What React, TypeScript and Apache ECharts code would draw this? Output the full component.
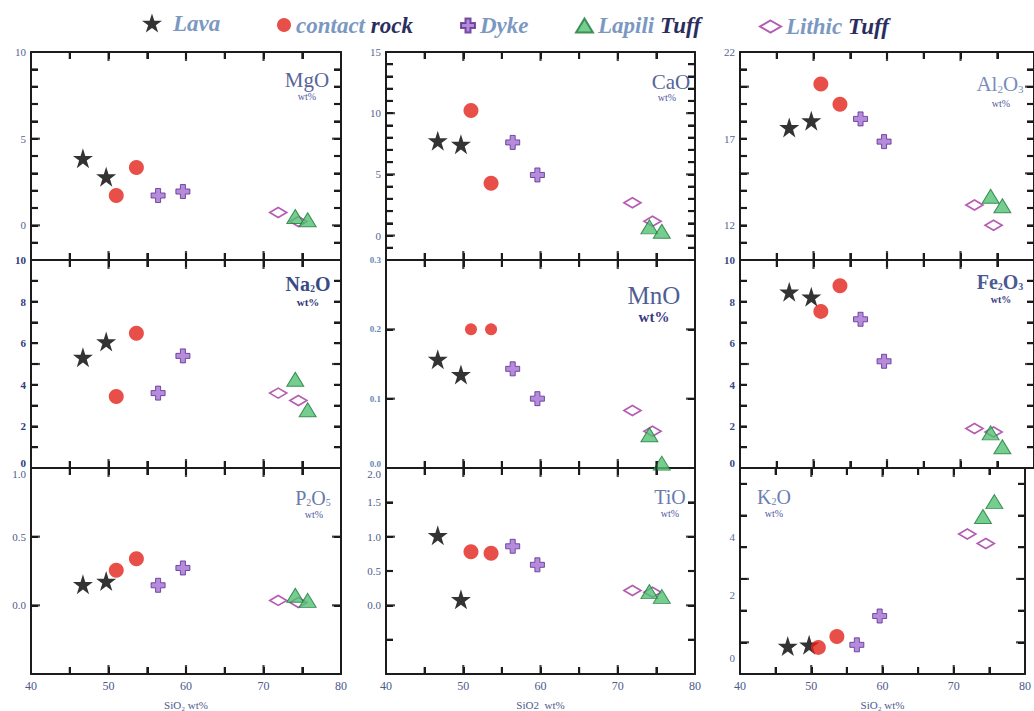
import React, { useEffect, useRef } from 'react';
import * as echarts from 'echarts';

// ---------- data ----------
const groupOrder = ['Lava', 'contact rock', 'Dyke', 'Lithic Tuff', 'Lapili Tuff'];
const sampleGroup = ['Lava', 'Lava', 'contact rock', 'contact rock', 'Dyke', 'Dyke', 'Lapili Tuff', 'Lapili Tuff', 'Lithic Tuff', 'Lithic Tuff'];
const SiO2 = [46.7, 49.7, 51.0, 53.6, 56.4, 59.6, 74.1, 75.7, 71.9, 74.5];
const MgO = [3.87, 2.81, 1.72, 3.33, 1.72, 1.95, 0.51, 0.32, 0.74, 0.22];
const CaO = [7.75, 7.47, 10.21, 4.27, 7.61, 4.95, 0.71, 0.35, 2.68, 1.17];
const Al2O3 = [17.65, 18.04, 20.15, 18.98, 18.14, 16.83, 13.68, 13.13, 13.17, 12.0];
const Na2O = [5.33, 6.08, 3.44, 6.48, 3.6, 5.39, 4.27, 2.8, 3.6, 3.25];
const MnO = [0.157, 0.135, 0.2, 0.2, 0.143, 0.1, 0.048, 0.007, 0.083, 0.053];
const Fe2O3 = [8.47, 8.23, 7.53, 8.76, 7.15, 5.13, 1.69, 1.02, 1.9, 1.73];
const P2O5 = [0.153, 0.177, 0.255, 0.34, 0.146, 0.272, 0.073, 0.036, 0.036, 0.02];
const TiO = [1.02, 0.087, 0.78, 0.76, 0.86, 0.59, 0.2, 0.13, 0.217, 0.19];
const K2O = [0.38, 0.42, 0.34, 0.68, 0.42, 1.33, 4.47, 4.94, 3.92, 3.62];

const xLabelValues = [40, 50, 60, 70, 80];
const xTicks = [45, 50, 55, 60, 65, 70, 75];
const xMajorTicks = [50, 60, 70];

const mgoLabels = [0, 5, 10];
const mgoTicks = [-1, 0, 1, 2, 3, 4, 5, 6, 7, 8, 9];
const mgoMajor = [0, 5];
const caoLabels = [0, 5, 10, 15];
const caoTicks = [-1, 0, 1, 2, 3, 4, 5, 6, 7, 8, 9, 10, 11, 12, 13, 14];
const caoMajor = [0, 5, 10];
const alLabels = [12, 17, 22];
const alTicks = [11, 12, 13, 14, 15, 16, 17, 18, 19, 20, 21];
const alMajor = [15, 20];
const naLabels = [0, 2, 4, 6, 8, 10];
const naTicks = [1, 2, 3, 4, 5, 6, 7, 8, 9];
const naMajor = [5];
const mnLabels = [0, 0.1, 0.2, 0.3];
const mnTicks = [0.1, 0.2];
const mnMajor = [0.1, 0.2];
const feLabels = [0, 2, 4, 6, 8, 10];
const feTicks = [1, 2, 3, 4, 5, 6, 7, 8, 9];
const feMajor = [5];
const pLabels = [0, 0.5, 1.0];
const pTicks = [0, 0.5];
const pMajor = [0, 0.5];
const tiLabels = [0, 0.5, 1.0, 1.5, 2.0];
const tiTicks = [-0.5, 0, 0.5, 1.0, 1.5];
const tiMajor = [0, 1.0];
const kLabels = [0, 2, 4];
const kTicks = [0.5, 1.5, 2.5, 3.5, 4.5, 5.5];
const kMajor = [0.5, 2.5];

// ---------- layout ----------
const cols = [
  { left: 31, width: 310 },
  { left: 386, width: 309 },
  { left: 740, width: 297 },
];
const rows = [
  { top: 52, height: 208 },
  { top: 260, height: 208 },
  { top: 468, height: 209 },
];

const SERIF = 'Liberation Serif';
const starPath = 'path://M50,0L61.2,34.5L97.6,34.5L68.2,55.9L79.4,90.5L50,69.1L20.6,90.5L31.8,55.9L2.4,34.5L38.8,34.5Z';
const plusPath = 'path://M32,0H68V32H100V68H68V100H32V68H0V32H32Z';

type Panel = {
  values: number[]; min: number; max: number; interval: number; labels: number[]; ticks: number[]; major: number[]; dec: number;
  labelColor: string; labelBold: boolean; labelSize: number;
  title: string; rich: any; tx: number; ty: number; wx: number; wy: number; wSize: number; wBold: boolean; wColor: string;
  xName: string;
};

function mainRich(size: number, color: string, bold: boolean) {
  return {
    m: { fontSize: size, lineHeight: size + 3, fill: color, fontFamily: SERIF, fontWeight: bold ? 'bold' : 'normal', verticalAlign: 'bottom' },
    s: { fontSize: Math.round(size * 0.5), lineHeight: Math.round(size * 0.5), fill: color, fontFamily: SERIF, fontWeight: bold ? 'bold' : 'normal', verticalAlign: 'bottom' },
  };
}

const panels: Panel[] = [
  { values: MgO, min: -2, max: 10, interval: 1, labels: mgoLabels, ticks: mgoTicks, major: mgoMajor, dec: 0, labelColor: '#56638f', labelBold: false, labelSize: 11,
    title: '{m|MgO}', rich: mainRich(21, '#56669a', false), tx: 307, ty: 78, wx: 307, wy: 96, wSize: 10, wBold: false, wColor: '#5058a0', xName: '' },
  { values: CaO, min: -2, max: 15, interval: 1, labels: caoLabels, ticks: caoTicks, major: caoMajor, dec: 0, labelColor: '#56638f', labelBold: false, labelSize: 11,
    title: '{m|CaO}', rich: mainRich(21, '#56669a', false), tx: 671, ty: 80, wx: 667, wy: 97, wSize: 10, wBold: false, wColor: '#5058a0', xName: '' },
  { values: Al2O3, min: 10, max: 22, interval: 1, labels: alLabels, ticks: alTicks, major: alMajor, dec: 0, labelColor: '#56638f', labelBold: false, labelSize: 11,
    title: '{m|Al}{s|2}{m|O}{s|3}', rich: mainRich(21, '#7a8cbc', false), tx: 1000, ty: 82, wx: 1001, wy: 103, wSize: 10, wBold: false, wColor: '#5058a0', xName: '' },
  { values: Na2O, min: 0, max: 10, interval: 1, labels: naLabels, ticks: naTicks, major: naMajor, dec: 0, labelColor: '#2f3c7c', labelBold: true, labelSize: 11,
    title: '{m|Na}{s|2}{m|O}', rich: mainRich(20, '#3a4a84', true), tx: 308, ty: 282, wx: 308, wy: 302, wSize: 11, wBold: true, wColor: '#2e3478', xName: '' },
  { values: MnO, min: 0, max: 0.3, interval: 0.1, labels: mnLabels, ticks: mnTicks, major: mnMajor, dec: 1, labelColor: '#5f8ab0', labelBold: true, labelSize: 9,
    title: '{m|MnO}', rich: mainRich(25, '#4e5e94', false), tx: 654, ty: 294, wx: 654, wy: 317, wSize: 15, wBold: true, wColor: '#3a3a82', xName: '' },
  { values: Fe2O3, min: 0, max: 10, interval: 1, labels: feLabels, ticks: feTicks, major: feMajor, dec: 0, labelColor: '#3a4686', labelBold: true, labelSize: 11,
    title: '{m|Fe}{s|2}{m|O}{s|3}', rich: mainRich(20, '#4a5a92', true), tx: 1000, ty: 280, wx: 1001, wy: 299, wSize: 10, wBold: true, wColor: '#3a3a82', xName: '' },
  { values: P2O5, min: -0.5, max: 1.0, interval: 0.5, labels: pLabels, ticks: pTicks, major: pMajor, dec: 1, labelColor: '#4e5a8a', labelBold: false, labelSize: 11,
    title: '{m|P}{s|2}{m|O}{s|5}', rich: mainRich(20, '#6a7aac', false), tx: 313, ty: 496, wx: 314, wy: 514, wSize: 10, wBold: false, wColor: '#5058a0', xName: 'SiO\u2082 wt%' },
  { values: TiO, min: -1, max: 2, interval: 0.5, labels: tiLabels, ticks: tiTicks, major: tiMajor, dec: 1, labelColor: '#4e5a8a', labelBold: false, labelSize: 11,
    title: '{m|TiO}', rich: mainRich(20, '#6a7aac', false), tx: 670, ty: 495, wx: 670, wy: 513, wSize: 10, wBold: false, wColor: '#5058a0', xName: 'SiO2  wt%' },
  { values: K2O, min: -0.5, max: 6, interval: 1, labels: kLabels, ticks: kTicks, major: kMajor, dec: 0, labelColor: '#5a6a9c', labelBold: false, labelSize: 11,
    title: '{m|K}{s|2}{m|O}', rich: mainRich(20, '#6a80b4', false), tx: 774, ty: 495, wx: 774, wy: 513, wSize: 10, wBold: false, wColor: '#5058a0', xName: 'SiO\u2082 wt%' },
];

function groupStyle(g: string, panelIdx: number) {
  switch (g) {
    case 'Lava':
      return { symbol: starPath, symbolSize: 20, itemStyle: { color: '#000000' } };
    case 'contact rock':
      return { symbol: 'circle', symbolSize: panelIdx === 4 ? 12 : 15, itemStyle: { color: '#e2231a' } };
    case 'Dyke':
      return { symbol: plusPath, symbolSize: 14, itemStyle: { color: '#a36fd3', borderColor: '#5b2c8c', borderWidth: 1 } };
    case 'Lapili Tuff':
      return { symbol: 'triangle', symbolSize: [17, 14], itemStyle: { color: '#53c173', borderColor: '#1d7a3a', borderWidth: 1 } };
    default:
      return { symbol: 'diamond', symbolSize: [17, 10], itemStyle: { color: 'rgba(255,255,255,0)', borderColor: '#a3339f', borderWidth: 1.8 } };
  }
}

const legendDefs = [
  { name: 'Lava', left: 142, w: 32, h: 19, icon: starPath, text: '{a|Lava}' },
  { name: 'contact rock', left: 277, w: 14, h: 15, icon: 'circle', text: '{a|contact }{b|rock}' },
  { name: 'Dyke', left: 460, w: 14, h: 14, icon: plusPath, text: '{a|Dyke}' },
  { name: 'Lapili Tuff', left: 575, w: 17, h: 14, icon: 'triangle', text: '{a|Lapili }{b|Tuff}' },
  { name: 'Lithic Tuff', left: 759, w: 21, h: 12, icon: 'diamond', text: '{a|Lithic }{b|Tuff}' },
];

function lineSt() {
  return { color: '#1c1c1c', width: 2, type: 'solid' };
}
function tickOpt() {
  return { show: true, inside: true, length: 7, lineStyle: { color: '#1c1c1c', width: 2 } };
}

const TW = 2.2; // tick thickness

function buildOption() {
  const grid = panels.map((_, i) => ({
    left: cols[i % 3].left, width: cols[i % 3].width,
    top: rows[Math.floor(i / 3)].top, height: rows[Math.floor(i / 3)].height,
    containLabel: false,
  }));

  const xAxis: any[] = [];
  const yAxis: any[] = [];
  panels.forEach((p, i) => {
    const rowIdx = Math.floor(i / 3);
    const bottomRow = rowIdx === 2;
    xAxis.push({
      type: 'value', gridIndex: i, position: 'bottom', min: 40, max: 80, interval: 5,
      axisLine: { show: true, onZero: false, lineStyle: lineSt() },
      axisTick: tickOpt(),
      axisLabel: { show: bottomRow, customValues: xLabelValues, fontFamily: SERIF, fontSize: 12, color: '#4c5a8c', margin: 6 },
      splitLine: { show: false },
      name: bottomRow ? p.xName : '', nameLocation: 'middle', nameGap: 25,
      nameTextStyle: { fontFamily: SERIF, fontSize: 11, color: '#4c5a8c' },
    });
    xAxis.push({
      type: 'value', gridIndex: i, position: 'top', min: 40, max: 80, interval: 5,
      axisLine: { show: true, onZero: false, lineStyle: lineSt() },
      axisTick: tickOpt(),
      axisLabel: { show: false },
      splitLine: { show: false },
    });
    yAxis.push({
      type: 'value', gridIndex: i, position: 'left', min: p.min, max: p.max, interval: p.interval,
      axisLine: { show: true, onZero: false, lineStyle: lineSt() },
      axisTick: tickOpt(),
      axisLabel: {
        show: true, customValues: p.labels, margin: 5,
        formatter: (v: number) => Number(v).toFixed(p.dec),
        verticalAlignMinLabel: rowIdx === 1 ? 'bottom' : undefined,
        verticalAlignMaxLabel: rowIdx === 2 ? 'top' : undefined,
        fontFamily: SERIF, fontSize: p.labelSize, color: p.labelColor, fontWeight: p.labelBold ? 'bold' : 'normal',
      },
      splitLine: { show: false },
    });
    yAxis.push({
      type: 'value', gridIndex: i, position: 'right', min: p.min, max: p.max, interval: p.interval,
      axisLine: { show: true, onZero: false, lineStyle: lineSt() },
      axisTick: tickOpt(),
      axisLabel: { show: false },
      splitLine: { show: false },
    });
  });

  const series: any[] = [];
  panels.forEach((p, i) => {
    // tick marks as small rect symbols placed through the axes' scales
    const tickData: any[] = [];
    p.ticks.forEach((v) => {
      const len = p.major.indexOf(v) >= 0 ? 9 : 7;
      tickData.push({ value: [40, v], symbolSize: [len, TW], symbolOffset: [len / 2, 0] });
      tickData.push({ value: [80, v], symbolSize: [len, TW], symbolOffset: [-len / 2, 0] });
    });
    xTicks.forEach((v) => {
      const len = xMajorTicks.indexOf(v) >= 0 ? 9 : 7;
      tickData.push({ value: [v, p.min], symbolSize: [TW, len], symbolOffset: [0, -len / 2] });
      tickData.push({ value: [v, p.max], symbolSize: [TW, len], symbolOffset: [0, len / 2] });
    });
    series.push({
      type: 'scatter', name: 'axis ticks', xAxisIndex: 2 * i, yAxisIndex: 2 * i,
      data: tickData, symbol: 'rect', itemStyle: { color: '#1c1c1c' },
      silent: true, clip: false, z: 4, emphasis: { disabled: true }, tooltip: { show: false },
    });
    groupOrder.forEach((g) => {
      const data: number[][] = [];
      sampleGroup.forEach((sg, k) => {
        if (sg === g) data.push([SiO2[k], p.values[k]]);
      });
      series.push({
        type: 'scatter', name: g, xAxisIndex: 2 * i, yAxisIndex: 2 * i,
        data, clip: false, z: 3, ...groupStyle(g, i),
        emphasis: { disabled: true },
      });
    });
  });

  const legend = legendDefs.map((d) => ({
    data: [{ name: d.name, icon: d.icon }],
    left: d.left, top: 21 - d.h / 2, padding: 0,
    itemWidth: d.w, itemHeight: d.h, symbolKeepAspect: true,
    selectedMode: false,
    formatter: () => d.text,
    textStyle: {
      rich: {
        a: { fontFamily: SERIF, fontSize: 23, fontStyle: 'italic', fontWeight: 'bold', color: '#7b98c2' },
        b: { fontFamily: SERIF, fontSize: 23, fontStyle: 'italic', fontWeight: 'bold', color: '#2b2d5e' },
      },
    },
  }));

  const graphic: any[] = [];
  panels.forEach((p) => {
    graphic.push({
      type: 'text', x: p.tx, y: p.ty, z: 10,
      style: { text: p.title, rich: p.rich, align: 'center', verticalAlign: 'middle', textAlign: 'center', textVerticalAlign: 'middle' },
    });
    graphic.push({
      type: 'text', x: p.wx, y: p.wy, z: 10,
      style: {
        text: 'wt%', fill: p.wColor, fontFamily: SERIF, fontSize: p.wSize, fontWeight: p.wBold ? 'bold' : 'normal',
        align: 'center', verticalAlign: 'middle', textAlign: 'center', textVerticalAlign: 'middle',
      },
    });
  });

  return { animation: false, backgroundColor: '#ffffff', grid, xAxis, yAxis, series, legend, graphic };
}

export default function App() {
  const ref = useRef<HTMLDivElement>(null);
  useEffect(() => {
    if (!ref.current) return;
    const chart = echarts.init(ref.current, null, { renderer: 'svg' });
    chart.setOption(buildOption() as any);
    return () => chart.dispose();
  }, []);
  return <div ref={ref} style={{ position: 'absolute', left: 0, top: 0, width: 1034, height: 711 }} />;
}
